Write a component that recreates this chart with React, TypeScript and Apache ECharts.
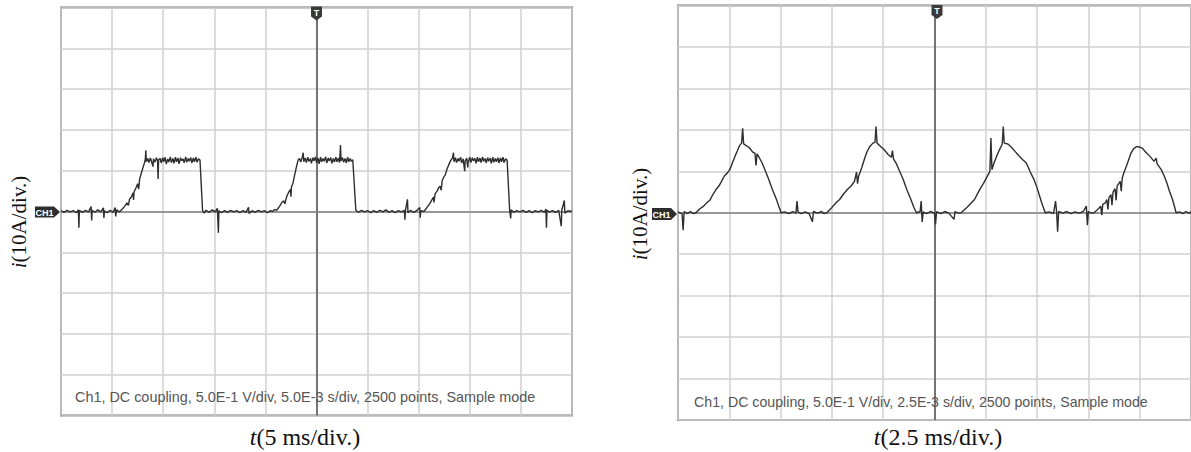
import React, { useEffect, useRef } from "react";
import * as echarts from "echarts";

// Left scope capture: time (ms), current (A); 5 ms/div, 10 A/div
const leftTrace: [number, number][] = [
  [0, 0.2], [0.3, -0.2], [0.6, 0.3], [0.9, -0.1], [1.2, 0.2], [1.5, -0.3], [1.7, 0.4], [1.75, -4.0], [1.8, 0.3],
  [2.1, -0.2], [2.4, 0.3], [2.7, -0.1], [2.95, 1.2], [3.0, -2.2], [3.05, 0.3], [3.3, -0.2], [3.6, 0.4], [3.9, -0.1],
  [4.15, 0.9], [4.2, -1.6], [4.25, 0.2], [4.5, -0.3], [4.8, 0.3], [5.1, -0.2], [5.3, 1.0], [5.35, -1.2], [5.45, 0.4], [5.7, -0.1],
  [6.0, 0.6], [6.2, 1.2], [6.45, 2.1], [6.6, 1.5], [6.7, 3.0], [6.9, 3.6], [7.05, 4.6], [7.1, 2.8], [7.15, 4.8], [7.35, 5.9],
  [7.5, 6.8], [7.6, 5.5], [7.7, 8.0], [7.85, 9.3], [8.0, 10.6], [8.15, 11.8], [8.25, 12.8], [8.3, 15.0], [8.35, 12.2],
  [8.5, 13.0], [8.6, 12.0], [8.75, 13.1], [8.85, 12.3], [9.0, 11.0], [9.05, 12.9], [9.2, 12.1], [9.35, 13.2], [9.45, 12.4],
  [9.5, 8.0], [9.55, 12.6], [9.7, 13.0], [9.8, 11.9], [9.95, 13.2], [10.05, 12.2], [10.2, 13.3], [10.3, 11.6], [10.45, 12.9],
  [10.55, 12.1], [10.7, 13.4], [10.8, 12.0], [10.95, 13.0], [11.05, 11.8], [11.2, 13.3], [11.3, 12.2], [11.45, 13.1],
  [11.55, 11.7], [11.7, 13.2], [11.8, 12.4], [11.95, 12.9], [12.05, 11.9], [12.2, 13.4], [12.3, 12.1], [12.45, 13.0],
  [12.55, 12.3], [12.7, 13.2], [12.8, 11.9], [12.95, 13.1], [13.05, 12.2], [13.2, 13.3], [13.3, 12.1], [13.45, 12.9], [13.6, 12.6],
  [13.85, 0.3], [14.0, -0.4], [14.2, 0.3], [14.5, -0.2], [14.8, 0.4], [15.1, -0.1], [15.3, 0.8], [15.4, -5.2], [15.45, 0.2],
  [15.7, -0.3], [16.0, 0.2], [16.3, -0.2], [16.6, 0.3], [16.9, -0.1], [17.2, 0.2], [17.5, -0.3], [17.8, 0.2], [18.1, -0.2],
  [18.35, 1.0], [18.4, -0.5], [18.7, 0.2], [19.0, -0.2], [19.3, 0.3], [19.6, -0.1], [19.9, 0.2], [20.2, -0.3], [20.5, 0.2], [20.7, 0.0],
  [20.9, 0.5], [21.1, 0.3], [21.4, 1.3], [21.6, 2.2], [21.8, 2.6], [21.9, 1.9], [22.1, 3.8], [22.3, 4.8], [22.45, 5.4], [22.5, 3.6],
  [22.55, 6.0], [22.7, 7.0], [22.85, 8.8], [23.0, 10.5], [23.1, 11.6], [23.2, 12.6],
  [23.35, 13.0], [23.45, 12.1], [23.6, 13.2], [23.7, 14.4], [23.75, 12.2], [23.9, 13.1], [24.0, 12.0], [24.15, 13.3], [24.25, 12.3],
  [24.4, 13.0], [24.5, 11.8], [24.65, 13.2], [24.75, 12.4], [24.9, 13.4], [25.0, 12.0], [25.15, 13.1], [25.25, 11.7], [25.4, 13.3],
  [25.5, 12.2], [25.65, 13.0], [25.75, 12.3], [25.9, 13.4], [26.0, 11.9], [26.15, 13.1], [26.25, 12.4], [26.4, 13.2], [26.5, 11.8],
  [26.65, 13.0], [26.75, 12.1], [26.9, 13.3], [27.0, 12.2], [27.15, 13.1], [27.25, 12.0], [27.35, 16.3], [27.4, 12.4], [27.55, 13.2],
  [27.65, 12.1], [27.8, 13.0], [27.9, 11.9], [28.05, 13.3], [28.15, 12.2], [28.3, 13.0], [28.4, 12.3], [28.55, 12.7],
  [28.85, 0.3], [29.1, -0.2], [29.4, 0.3], [29.7, -0.1], [30.0, 0.2], [30.3, -0.3], [30.6, 0.2], [30.9, -0.2], [31.2, 0.3],
  [31.5, -0.1], [31.8, 0.4], [32.1, -0.2], [32.4, 0.2], [32.7, -0.3], [33.0, 0.2], [33.3, -0.1], [33.6, 0.3], [33.65, -2.0],
  [33.7, 0.2], [33.9, 3.0], [33.95, -0.3], [34.2, 0.3], [34.5, -0.2], [34.8, 0.2], [35.1, 1.0], [35.15, -1.5], [35.2, 0.2], [35.5, 0.0],
  [35.7, 0.6], [35.9, 1.3], [36.1, 2.0], [36.3, 2.9], [36.45, 3.5], [36.5, 2.2], [36.6, 4.3], [36.8, 5.0], [36.95, 5.8], [37.1, 6.2],
  [37.2, 5.2], [37.3, 7.6], [37.45, 8.4], [37.6, 9.0], [37.8, 10.6], [38.0, 11.8], [38.15, 12.6],
  [38.3, 13.1], [38.4, 14.4], [38.45, 12.2], [38.6, 13.2], [38.7, 12.0], [38.85, 13.0], [38.95, 12.3], [39.1, 13.3], [39.2, 11.9],
  [39.35, 12.9], [39.5, 9.9], [39.55, 12.4], [39.7, 13.1], [39.8, 10.8], [39.85, 12.2], [40.0, 13.3], [40.1, 12.0], [40.25, 13.2],
  [40.35, 12.4], [40.5, 13.0], [40.6, 11.8], [40.75, 13.3], [40.85, 12.2], [41.0, 13.1], [41.1, 12.0], [41.25, 13.4], [41.35, 12.3],
  [41.5, 13.0], [41.6, 11.9], [41.75, 13.2], [41.85, 12.3], [42.0, 13.1], [42.1, 11.8], [42.25, 13.3], [42.35, 12.1], [42.5, 13.0],
  [42.6, 12.2], [42.75, 13.2], [42.85, 11.9], [43.0, 13.1], [43.1, 12.2], [43.25, 13.3], [43.35, 12.0], [43.5, 12.9], [43.65, 12.6],
  [43.9, 0.3], [44.0, -1.7], [44.05, 0.4], [44.3, -0.2], [44.6, 0.2], [44.9, -0.1], [45.2, 0.3], [45.5, -0.2], [45.8, 0.2],
  [46.1, -0.3], [46.4, 0.2], [46.7, -0.1], [47.0, 0.3], [47.3, -0.2], [47.45, 0.6], [47.5, -4.0], [47.55, 0.3], [47.8, -0.1],
  [48.1, 0.2], [48.4, -0.2], [48.7, 0.3], [48.95, -3.6], [49.0, 0.3], [49.25, 2.7], [49.3, -0.4], [49.6, 0.2], [50, 0.0],
];

// Right scope capture: time (ms), current (A); 2.5 ms/div, 10 A/div
const rightTrace: [number, number][] = [
  [0, 0.2], [0.2, -0.3], [0.25, -4.2], [0.3, 0.3], [0.45, -0.2], [0.6, 0.3], [0.75, -0.2], [0.875, 0.0],
  [1.05, 0.9], [1.25, 1.6], [1.4, 2.4], [1.55, 3.0], [1.7, 4.4], [1.85, 5.6], [2.0, 6.5], [2.1, 7.4], [2.25, 8.8], [2.4, 9.6],
  [2.525, 10.4], [2.65, 12.0], [2.775, 13.6], [2.9, 15.0], [3.0, 16.2], [3.1, 16.8], [3.15, 20.4], [3.2, 16.6], [3.325, 16.2],
  [3.45, 15.8], [3.55, 15.2], [3.65, 14.6], [3.75, 14.4], [3.8, 11.4], [3.85, 14.2], [3.95, 13.4], [4.1, 12.0], [4.25, 10.2],
  [4.425, 8.0], [4.6, 5.6], [4.8, 3.2], [4.95, 1.0], [5.025, 0.0],
  [5.2, 0.2], [5.4, -0.2], [5.6, 0.3], [5.75, -0.1], [5.8, 2.8], [5.85, 0.2], [6.0, -0.2], [6.2, 0.2], [6.4, -0.3], [6.55, -2.2],
  [6.6, 0.3], [6.8, -0.1], [7.0, 0.3], [7.1, -0.2], [7.25, 0.0],
  [7.45, 1.0], [7.7, 2.4], [7.875, 3.2], [8.05, 4.4], [8.25, 5.6], [8.425, 6.4], [8.6, 7.6], [8.7, 9.8], [8.75, 7.0], [8.8, 8.8],
  [8.95, 10.8], [9.075, 12.8], [9.2, 14.6], [9.35, 16.0], [9.5, 16.8], [9.6, 17.0], [9.65, 20.8], [9.7, 16.8], [9.875, 16.0],
  [10.05, 15.2], [10.25, 14.0], [10.4, 13.4], [10.45, 15.0], [10.5, 13.0], [10.625, 12.0], [10.8, 10.0], [10.975, 8.0],
  [11.15, 5.6], [11.35, 3.2], [11.5, 1.2], [11.625, 0.0],
  [11.8, 0.3], [11.85, 2.8], [11.9, -2.2], [11.95, 0.2], [12.1, -0.2], [12.3, 0.3], [12.5, -0.1], [12.55, -2.8], [12.6, 0.3],
  [12.8, -0.2], [13.0, 0.3], [13.2, -0.1], [13.45, -1.6], [13.5, 0.3], [13.65, -0.1], [13.8, 0.0],
  [14.1, 1.4], [14.3, 2.4], [14.45, 3.2], [14.6, 4.6], [14.75, 6.0], [14.9, 7.2], [15.05, 8.6], [15.2, 10.0], [15.25, 18.0],
  [15.3, 10.4], [15.4, 12.0], [15.525, 13.6], [15.65, 15.0], [15.8, 16.6], [15.85, 20.8], [15.9, 16.8], [16.075, 16.6],
  [16.25, 15.8], [16.425, 14.8], [16.6, 13.8], [16.8, 12.8], [16.975, 12.0], [17.15, 10.0], [17.35, 8.0], [17.5, 6.0],
  [17.625, 4.0], [17.75, 2.0], [17.9, 0.0],
  [18.1, 0.2], [18.3, -0.2], [18.4, 2.8], [18.45, 0.2], [18.5, -4.6], [18.55, 0.3], [18.75, -0.1], [18.95, 0.3], [19.15, -0.2],
  [19.35, 0.2], [19.55, -0.1], [19.75, 0.3], [19.9, 1.6], [19.95, -3.0], [20.0, 0.3], [20.15, -0.1], [20.275, 0.0],
  [20.45, 0.8], [20.6, 1.6], [20.65, -0.6], [20.7, 2.0], [20.825, 2.4], [20.9, 3.2], [20.95, 0.8], [21.0, 3.6], [21.1, 4.4],
  [21.15, 1.8], [21.2, 5.0], [21.3, 5.8], [21.35, 3.0], [21.4, 6.4], [21.55, 7.6], [21.6, 5.2], [21.65, 8.4], [21.725, 9.6],
  [21.85, 11.2], [21.95, 12.6], [22.075, 14.4], [22.2, 15.4], [22.35, 16.0], [22.5, 15.8], [22.625, 15.6], [22.8, 14.6],
  [23.0, 13.6], [23.2, 12.4], [23.3, 13.2], [23.35, 11.8], [23.55, 10.4], [23.7, 8.8], [23.825, 7.2], [23.95, 5.2],
  [24.1, 3.2], [24.2, 1.4], [24.275, 0.0],
  [24.45, 0.2], [24.6, -0.2], [24.75, 0.3], [24.9, -0.1], [25, 0.2],
];

const leftTimeRange = [0, 50, 5]; // min, max, ms per div
const rightTimeRange = [0, 25, 2.5];
const currentRange = [-50, 50, 10]; // A, 10 A/div

const leftInfo = "Ch1, DC coupling, 5.0E-1 V/div, 5.0E-3 s/div, 2500 points, Sample mode";
const rightInfo = "Ch1, DC coupling, 5.0E-1 V/div, 2.5E-3 s/div, 2500 points, Sample mode";
const leftXName = "(5 ms/div.)";
const rightXName = "(2.5 ms/div.)";
const yName = "(10A/div.)";

const GRID_LINE = "#d0d0d0";
const FRAME = "#787878";
const TRACE = "#2e2e2e";
const SERIF = "'Liberation Serif', 'Times New Roman', serif";
const SANS = "'Liberation Sans', Arial, sans-serif";

function xAxis(gridIndex: number, r: number[]) {
  return {
    type: "value", gridIndex, min: r[0], max: r[1], interval: r[2],
    axisLine: { show: false }, axisTick: { show: false }, axisLabel: { show: false },
    splitLine: { show: true, lineStyle: { color: GRID_LINE, width: 1.5 } },
  };
}
function yAxis(gridIndex: number) {
  return {
    type: "value", gridIndex, min: currentRange[0], max: currentRange[1], interval: currentRange[2],
    axisLine: { show: false }, axisTick: { show: false }, axisLabel: { show: false },
    splitLine: { show: true, lineStyle: { color: GRID_LINE, width: 1.5 } },
  };
}
function trace(idx: number, data: [number, number][], center: number) {
  return {
    type: "line", xAxisIndex: idx, yAxisIndex: idx, data, symbol: "none", showSymbol: false,
    lineStyle: { color: TRACE, width: 1.4 }, clip: true, z: 5,
    markLine: {
      silent: true, symbol: ["none", "none"], label: { show: false }, z: 3,
      lineStyle: { color: "#5a5a5a", width: 1.6, type: "solid" },
      data: [{ xAxis: center }, { yAxis: 0, lineStyle: { color: "#808080", width: 1.6, type: "solid" } }],
    },
  };
}

function trigMarker(cx: number, top: number) {
  return [
    {
      type: "polygon", z: 20,
      shape: { points: [[cx - 5.5, top], [cx + 5.5, top], [cx + 5.5, top + 10], [cx, top + 14], [cx - 5.5, top + 10]] },
      style: { fill: "#3a3a3a" },
    },
    {
      type: "text", z: 21, x: cx, y: top + 6,
      style: { text: "T", fill: "#fff", font: "bold 9px " + SANS, align: "center", verticalAlign: "middle" },
    },
  ];
}
function chMarker(x0: number, x1: number, cy: number, h: number) {
  return [
    {
      type: "polygon", z: 20,
      shape: { points: [[x0, cy - h / 2], [x1 - 6, cy - h / 2], [x1, cy], [x1 - 6, cy + h / 2], [x0, cy + h / 2]] },
      style: { fill: "#2e2e2e" },
    },
    {
      type: "text", z: 21, x: (x0 + x1 - 6) / 2, y: cy + 0.5,
      style: { text: "CH1", fill: "#fff", font: "bold 9px " + SANS, align: "center", verticalAlign: "middle" },
    },
  ];
}
function serifLabel(x: number, y: number, it: string, rest: string, rot: number, size: number) {
  return {
    type: "text", z: 21, x, y, rotation: rot,
    style: {
      text: "{i|" + it + "}{r|" + rest + "}", align: "center", verticalAlign: "middle",
      rich: {
        i: { fontFamily: SERIF, fontStyle: "italic", fontSize: size, fill: "#111" },
        r: { fontFamily: SERIF, fontSize: size, fill: "#111" },
      },
    },
  };
}

export default function App() {
  const ref = useRef<HTMLDivElement>(null);
  useEffect(() => {
    if (!ref.current) return;
    const chart = echarts.init(ref.current, undefined, { renderer: "svg" });
    chart.setOption({
      animation: false,
      backgroundColor: "#fff",
      grid: [
        { left: 61, top: 7.5, width: 511, height: 408, show: true, borderColor: FRAME, borderWidth: 2, containLabel: false },
        { left: 678, top: 5.5, width: 518, height: 414.5, show: true, borderColor: FRAME, borderWidth: 2, containLabel: false },
      ],
      xAxis: [xAxis(0, leftTimeRange), xAxis(1, rightTimeRange)],
      yAxis: [yAxis(0), yAxis(1)],
      series: [
        trace(0, leftTrace, (leftTimeRange[0] + leftTimeRange[1]) / 2),
        trace(1, rightTrace, (rightTimeRange[0] + rightTimeRange[1]) / 2),
      ],
      graphic: [
        ...trigMarker(316.5, 6.5),
        ...trigMarker(937, 5),
        ...chMarker(35, 60, 212, 11),
        ...chMarker(652, 677, 214, 12),
        {
          type: "text", z: 21, x: 75, y: 397,
          style: { text: leftInfo, fill: "#555", font: "14.4px " + SANS, verticalAlign: "middle" },
        },
        {
          type: "text", z: 21, x: 694, y: 402,
          style: { text: rightInfo, fill: "#555", font: "14.2px " + SANS, verticalAlign: "middle" },
        },
        serifLabel(305, 437, "t", leftXName, 0, 24),
        serifLabel(938, 437, "t", rightXName, 0, 24),
        serifLabel(19, 222, "i", yName, Math.PI / 2, 21),
        serifLabel(640, 214, "i", yName, Math.PI / 2, 21),
      ],
    });
    return () => chart.dispose();
  }, []);
  return (
    <div
      ref={ref}
      style={{ position: "fixed", left: 0, top: 0, width: 1191, height: 452, background: "#fff" }}
    />
  );
}
